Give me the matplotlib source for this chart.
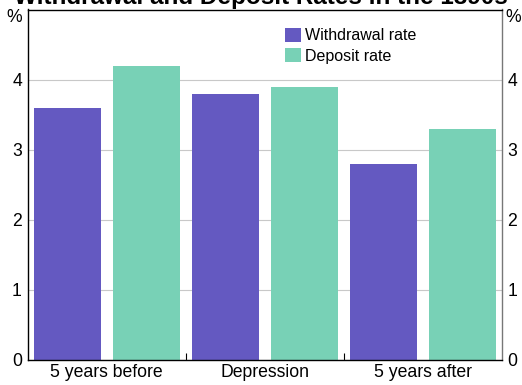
import matplotlib.pyplot as plt
import numpy as np

plt.rcParams['font.family'] = ['Liberation Sans', 'DejaVu Sans']

categories = ["5 years before", "Depression", "5 years after"]
withdrawal = [3.6, 3.8, 2.8]
deposit = [4.2, 3.9, 3.3]

fig = plt.figure(figsize=(5.22, 3.85), dpi=100)
ax = fig.add_axes([27.5 / 522, 1 - 360 / 385, 474.5 / 522, 350.5 / 385])

x = np.arange(len(categories))
w = 0.424
ax.bar(x - 0.25, withdrawal, w, color="#6459C1", label="Withdrawal rate", zorder=2)
ax.bar(x + 0.25, deposit, w, color="#78D1B6", label="Deposit rate", zorder=2)

ax.set_xlim(-0.5, 2.5)
ax.set_ylim(0, 5)
ax.set_yticks([0, 1, 2, 3, 4])
ax.grid(axis="y", color="#c8c8c8", linewidth=0.8, zorder=0)
ax.tick_params(axis="y", length=0, labelsize=12.7, left=True, right=True,
               labelleft=True, labelright=True, pad=4)
ax.set_xticks(x)
ax.set_xticklabels(categories, fontsize=12.7)
ax.tick_params(axis="x", which="major", length=0, pad=3)
ax.set_xticks([0.5, 1.5], minor=True)
ax.tick_params(axis="x", which="minor", direction="in", length=5, width=0.8)
for s in ax.spines.values():
    s.set_linewidth(1.0)
ax.spines["right"].set_color("#777777")

ax.text(-0.012, 4.88, "%", transform=ax.get_yaxis_transform(), ha="right", va="center", fontsize=12.7)
ax.text(1.008, 4.88, "%", transform=ax.get_yaxis_transform(), ha="left", va="center", fontsize=12.7)

ax.legend(loc="upper left", bbox_to_anchor=(0.52, 0.98), frameon=False, fontsize=11.5,
          handlelength=1.0, handleheight=1.0, handletextpad=0.2, labelspacing=0.3,
          borderpad=0.2)

fig.text(0.5, 1 - 4 / 385, "Withdrawal and Deposit Rates in the 1890s", ha="center",
         va="baseline", fontsize=17.5, fontweight="bold")

fig.savefig("out.png", dpi=100)
